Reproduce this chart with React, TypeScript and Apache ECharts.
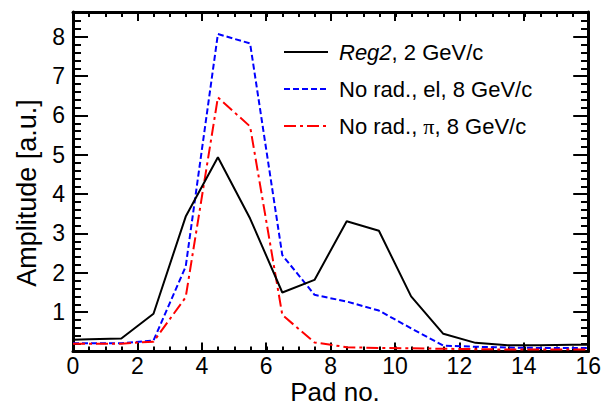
import React, { useEffect, useRef } from "react";
import * as echarts from "echarts";

const padX = [0, 0.5, 1.5, 2.5, 3.5, 4.5, 5.5, 6.5, 7.5, 8.5, 9.5, 10.5, 11.5, 12.5, 13.5, 14.5, 15.5, 16];
const reg2 = [0.30, 0.31, 0.33, 0.96, 3.43, 4.94, 3.38, 1.50, 1.82, 3.31, 3.07, 1.40, 0.45, 0.22, 0.16, 0.16, 0.17, 0.17];
const noRadEl = [0.21, 0.21, 0.21, 0.28, 2.16, 8.07, 7.83, 2.45, 1.44, 1.27, 1.04, 0.59, 0.15, 0.12, 0.10, 0.09, 0.09, 0.09];
const noRadPi = [0.20, 0.20, 0.20, 0.25, 1.38, 6.46, 5.72, 0.93, 0.23, 0.11, 0.09, 0.08, 0.07, 0.06, 0.05, 0.05, 0.05, 0.05];
const seriesNames = ["Reg2, 2 GeV/c", "No rad., el, 8 GeV/c", "No rad., π, 8 GeV/c"];
const xTitle = "Pad no.";
const yTitle = "Amplitude [a.u.]";

const FONT = "Liberation Sans";

export default function App() {
  const ref = useRef<HTMLDivElement>(null);
  useEffect(() => {
    if (!ref.current) return;
    const chart = echarts.init(ref.current, null, { renderer: "svg" });
    const grid = { left: 73, right: 15, top: 12, bottom: 54.5, containLabel: false };
    const axisLine = { show: true, onZero: false, lineStyle: { color: "#000", width: 3 } };
    const noLine = { show: false, onZero: false };
    const pairs = (ys: number[]) => padX.map((x, i) => [x, ys[i]]);
    const xBase = { type: "value", min: 0, max: 16, splitLine: { show: false } };
    const yBase = { type: "value", min: 0, max: 8.63, splitLine: { show: false } };
    const tick = (len: number) => ({ show: true, inside: true, length: len, lineStyle: { color: "#000", width: 2 } });
    const legendFmt = (name: string) => {
      if (name === seriesNames[0]) return "{i|Reg2}{n|, 2 GeV/c}";
      if (name === seriesNames[2]) return "{n|No rad., }{p|π}{n|, 8 GeV/c}";
      return "{n|" + name + "}";
    };
    chart.setOption({
      animation: false,
      backgroundColor: "#fff",
      grid: [grid, { ...grid }],
      xAxis: [
        {
          ...xBase, gridIndex: 0, position: "bottom", interval: 2,
          axisLine, axisTick: tick(9),
          axisLabel: { show: true, margin: 3, color: "#000", fontSize: 23, fontFamily: FONT },
        },
        { ...xBase, gridIndex: 0, position: "top", interval: 2, axisLine, axisTick: tick(9), axisLabel: { show: false } },
        { ...xBase, gridIndex: 1, position: "bottom", interval: 0.5, axisLine: noLine, axisTick: tick(5), axisLabel: { show: false } },
        { ...xBase, gridIndex: 1, position: "top", interval: 0.5, axisLine: noLine, axisTick: tick(5), axisLabel: { show: false } },
      ],
      yAxis: [
        {
          ...yBase, gridIndex: 0, position: "left", interval: 1,
          axisLine, axisTick: tick(15),
          axisLabel: {
            show: true, margin: 8, color: "#000", fontSize: 23, fontFamily: FONT,
            showMaxLabel: false, showMinLabel: false,
            formatter: (v: number) => (Number.isInteger(v) && v > 0 ? String(v) : ""),
          },
        },
        { ...yBase, gridIndex: 0, position: "right", interval: 1, axisLine, axisTick: tick(15), axisLabel: { show: false } },
        { ...yBase, gridIndex: 1, position: "left", interval: 0.2, axisLine: noLine, axisTick: tick(8), axisLabel: { show: false } },
        { ...yBase, gridIndex: 1, position: "right", interval: 0.2, axisLine: noLine, axisTick: tick(8), axisLabel: { show: false } },
      ],
      legend: {
        orient: "vertical",
        left: 278,
        top: 36,
        itemWidth: 44,
        itemHeight: 0.01,
        itemGap: 15,
        data: seriesNames,
        formatter: legendFmt,
        textStyle: {
          color: "#000",
          fontSize: 22,
          lineHeight: 22,
          fontFamily: FONT,
          padding: [0, 0, 0, 6],
          rich: {
            n: { fontSize: 22, lineHeight: 22, fontFamily: FONT, color: "#000" },
            i: { fontSize: 22, lineHeight: 22, fontFamily: FONT, fontStyle: "italic", color: "#000" },
            p: { fontSize: 22, lineHeight: 22, fontFamily: "Liberation Serif", color: "#000" },
          },
        },
      },
      graphic: [
        {
          type: "text", x: 27, y: 193, rotation: Math.PI / 2,
          style: { text: yTitle, fontSize: 27, fontFamily: FONT, fill: "#000", align: "center", verticalAlign: "middle" },
        },
        {
          type: "text", x: 335, y: 392,
          style: { text: xTitle, fontSize: 26, fontFamily: FONT, fill: "#000", align: "center", verticalAlign: "middle" },
        },
      ],
      series: [
        {
          name: seriesNames[0], type: "line", xAxisIndex: 0, yAxisIndex: 0,
          data: pairs(reg2), symbol: "none", color: "#000",
          lineStyle: { color: "#000", width: 2, type: "solid" }, z: 3,
        },
        {
          name: seriesNames[1], type: "line", xAxisIndex: 0, yAxisIndex: 0,
          data: pairs(noRadEl), symbol: "none", color: "#0000ff",
          lineStyle: { color: "#0000ff", width: 2, type: [6, 3] }, z: 2,
        },
        {
          name: seriesNames[2], type: "line", xAxisIndex: 0, yAxisIndex: 0,
          data: pairs(noRadPi), symbol: "none", color: "#ff0000",
          lineStyle: { color: "#ff0000", width: 2, type: [12, 4, 3, 4] }, z: 2,
        },
      ],
    });
    return () => chart.dispose();
  }, []);
  return <div ref={ref} style={{ width: 604, height: 406, position: "absolute", left: 0, top: 0 }} />;
}
